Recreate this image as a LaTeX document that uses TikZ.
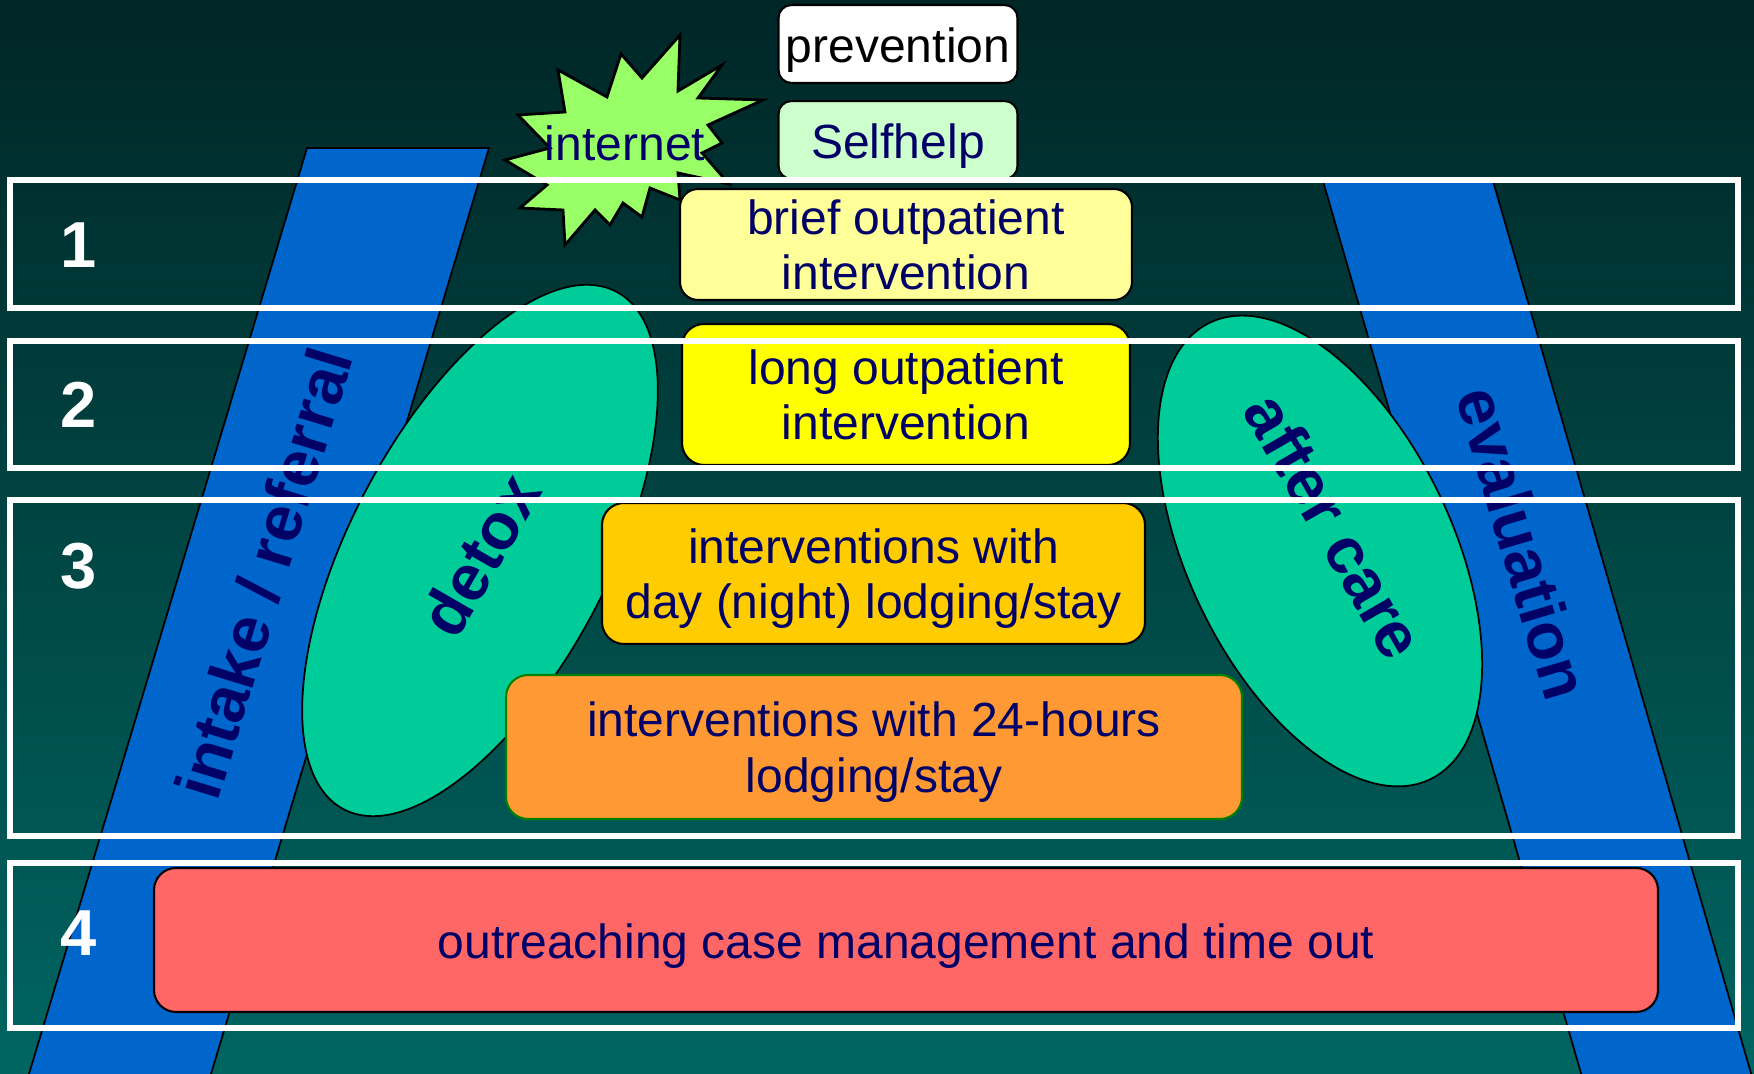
\documentclass[tikz,border=0pt]{standalone}
\usepackage{fontspec}
\setmainfont{Liberation Sans}
\usepackage{tikz}
\usetikzlibrary{shapes, positioning}
\usepackage{xcolor}

\definecolor{navytext}{RGB}{0,0,102}
\definecolor{bgtop}{RGB}{0,38,38}
\definecolor{bgbottom}{RGB}{0,101,97}
\definecolor{bandblue}{RGB}{0,102,204}
\definecolor{blobgreen}{RGB}{0,204,153}
\definecolor{stargreen}{RGB}{153,255,102}
\definecolor{selfhelpgreen}{RGB}{204,255,204}
\definecolor{briefyellow}{RGB}{255,255,153}
\definecolor{longyellow}{RGB}{255,255,0}
\definecolor{dayorange}{RGB}{255,204,0}
\definecolor{fullorange}{RGB}{255,153,51}
\definecolor{outreachred}{RGB}{255,102,102}
\definecolor{borderGreen}{RGB}{0,128,0}

\begin{document}
\begin{tikzpicture}[thick,
    box/.style={draw, rounded corners=0.22cm, line width=0.6pt, text=navytext, inner sep=0pt,
        font=\fontsize{13.66}{15.9}\selectfont},
    oneline/.style={text height=13.6pt},
    twoline/.style={text height=21pt, text depth=10.2pt},
    band/.style={draw, fill=bandblue, line width=0.5pt},
    blob/.style={ellipse, draw, fill=blobgreen, line width=0.5pt, inner sep=0pt},
    tag/.style={text=navytext, font=\fontsize{18.5}{22}\selectfont\bfseries},
    num/.style={text=white, font=\fontsize{18.5}{22}\selectfont\bfseries},
    rowframe/.style={draw=white, line width=1.7pt}]

    \useasboundingbox (0,0) rectangle (17.54,10.74);
    \shade[top color=bgtop, bottom color=bgbottom] (0,0) rectangle (17.54,10.74);

    % the two slanted bands
    \draw[band] (3.07,9.26) -- (4.89,9.26) -- (2.05,-0.2) -- (0.23,-0.2) -- cycle;
    \draw[band] (13.23,8.93) -- (14.93,8.93) -- (17.57,-0.2) -- (15.87,-0.2) -- cycle;

    \node[blob, rotate=62.2, minimum width=5.85cm, minimum height=2.58cm] (detox) at (4.80,5.235) {};
    \node[blob, rotate=-64.2, minimum width=5.07cm, minimum height=2.64cm] (aftercare) at (13.20,5.23) {};

    \node[tag, rotate=73] (intake) at (2.64,5.01) {intake / referral};
    \node[tag, rotate=60] (detoxtext) at (4.80,5.19) {detox};
    \node[tag, rotate=-60] (aftercaretext) at (13.35,5.48) {after care};
    \node[tag, rotate=-73.5] (evaluation) at (15.23,5.31) {evaluation};

    % burst behind the internet label
    \draw[fill=stargreen, line width=0.8pt, line join=miter]
        (6.80,10.39) -- (6.78,9.83) -- (7.22,10.09) -- (6.98,9.76) -- (7.63,9.74)
        -- (7.08,9.49) -- (7.22,9.31) -- (7.02,9.21) -- (7.29,8.90) -- (6.78,9.01)
        -- (6.80,8.74) -- (6.50,8.86) -- (6.42,8.57) -- (6.23,8.71) -- (6.10,8.49)
        -- (5.95,8.64) -- (5.65,8.29) -- (5.63,8.64) -- (5.20,8.66) -- (5.47,8.89)
        -- (5.05,9.14) -- (5.50,9.26) -- (5.18,9.59) -- (5.65,9.62) -- (5.58,10.04)
        -- (6.07,9.77) -- (6.21,10.20) -- (6.42,9.96) -- cycle;
    \node[text=navytext, font=\fontsize{13.66}{15.9}\selectfont] (internet) at (6.25,9.31) {internet};

    \node[box, oneline, fill=white, text=black, rounded corners=0.13cm, minimum width=2.39cm, minimum height=0.78cm] (prevention) at (8.98,10.30) {prevention};
    \node[box, oneline, fill=selfhelpgreen, rounded corners=0.13cm, minimum width=2.39cm, minimum height=0.78cm] (selfhelp) at (8.98,9.34) {Selfhelp};
    \node[box, twoline, fill=briefyellow, rounded corners=0.18cm, minimum width=4.52cm, minimum height=1.11cm] (brief) at (9.06,8.295) {
        \begin{tabular}{c}
            brief outpatient \\
            intervention
        \end{tabular}
    };
    \node[box, twoline, fill=longyellow, minimum width=4.48cm, minimum height=1.41cm] (long) at (9.06,6.795) {
        \begin{tabular}{c}
            long outpatient \\
            intervention
        \end{tabular}
    };
    \node[box, twoline, fill=dayorange, minimum width=5.43cm, minimum height=1.41cm] (daystay) at (8.735,5.005) {
        \begin{tabular}{c}
            interventions with \\
            day (night) lodging/stay
        \end{tabular}
    };
    \node[box, twoline, draw=borderGreen, fill=fullorange, minimum width=7.36cm, minimum height=1.44cm] (fullstay) at (8.74,3.27) {
        \begin{tabular}{c}
            interventions with 24-hours \\
            lodging/stay
        \end{tabular}
    };
    \node[box, oneline, fill=outreachred, minimum width=15.04cm, minimum height=1.44cm] (outreach) at (9.06,1.34) {outreaching case management and time out};

    % the four numbered rows
    \draw[rowframe] (0.10,8.94) rectangle (17.38,7.66);
    \draw[rowframe] (0.10,7.33) rectangle (17.38,6.06);
    \draw[rowframe] (0.10,5.74) rectangle (17.38,2.38);
    \draw[rowframe] (0.10,2.11) rectangle (17.38,0.46);

    \node[num] (one) at (0.79,8.29) {1};
    \node[num] (two) at (0.79,6.69) {2};
    \node[num] (three) at (0.79,5.08) {3};
    \node[num] (four) at (0.79,1.41) {4};
\end{tikzpicture}
\end{document}
